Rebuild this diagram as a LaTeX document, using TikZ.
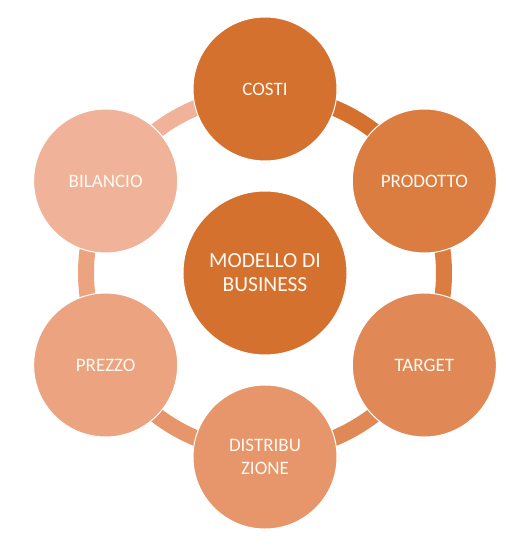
\documentclass[tikz,border=0pt]{standalone}
\usepackage{fontspec}
\setmainfont{Carlito}
\definecolor{cA}{RGB}{213,113,46}
\definecolor{cB}{RGB}{219,124,64}
\definecolor{cC}{RGB}{224,137,86}
\definecolor{cD}{RGB}{230,150,106}
\definecolor{cE}{RGB}{235,163,128}
\definecolor{cF}{RGB}{240,179,153}
\definecolor{txt}{RGB}{255,250,242}
\begin{document}
\begin{tikzpicture}[x=1pt,y=-1pt,
  sat/.style={circle,draw=white,line width=1pt,minimum size=144pt,inner sep=0pt,
    text=txt,font=\fontsize{19}{23}\selectfont,align=center},
  hub/.style={circle,draw=white,line width=1pt,minimum size=164pt,inner sep=0pt,
    fill=cA,text=txt,font=\fontsize{21.5}{24}\selectfont,align=center},
  ring/.style={line width=16pt}]
\useasboundingbox (0,0) rectangle (532,551);
\coordinate (o) at (265,273);
\coordinate (p1) at ([shift={(90:184pt)}]o);
\coordinate (p2) at ([shift={(30:184pt)}]o);
\coordinate (p3) at ([shift={(-30:184pt)}]o);
\coordinate (p4) at ([shift={(-90:184pt)}]o);
\coordinate (p5) at ([shift={(-150:184pt)}]o);
\coordinate (p6) at ([shift={(150:184pt)}]o);
\coordinate (q1) at ([shift={(90:179pt)}]o);
\coordinate (q2) at ([shift={(30:179pt)}]o);
\coordinate (q3) at ([shift={(-30:179pt)}]o);
\coordinate (q4) at ([shift={(-90:179pt)}]o);
\coordinate (q5) at ([shift={(-150:179pt)}]o);
\coordinate (q6) at ([shift={(150:179pt)}]o);
% ring segments
\draw[ring,cA] (q1) arc[start angle=90,end angle=30,radius=179pt];
\draw[ring,cB] (q2) arc[start angle=30,end angle=-30,radius=179pt];
\draw[ring,cC] (q3) arc[start angle=-30,end angle=-90,radius=179pt];
\draw[ring,cD] (q4) arc[start angle=-90,end angle=-150,radius=179pt];
\draw[ring,cE] (q5) arc[start angle=-150,end angle=-210,radius=179pt];
\draw[ring,cF] (q6) arc[start angle=150,end angle=90,radius=179pt];
% nodes
\node[hub] (hub) at (o) {MODELLO DI\\BUSINESS};
\node[sat,fill=cA] (costi) at (p1) {COSTI};
\node[sat,fill=cB] (prodotto) at (p2) {PRODOTTO};
\node[sat,fill=cC] (target) at (p3) {TARGET};
\node[sat,fill=cD] (distribuzione) at (p4) {DISTRIBU\\ZIONE};
\node[sat,fill=cE] (prezzo) at (p5) {PREZZO};
\node[sat,fill=cF] (bilancio) at (p6) {BILANCIO};
\end{tikzpicture}
\end{document}
